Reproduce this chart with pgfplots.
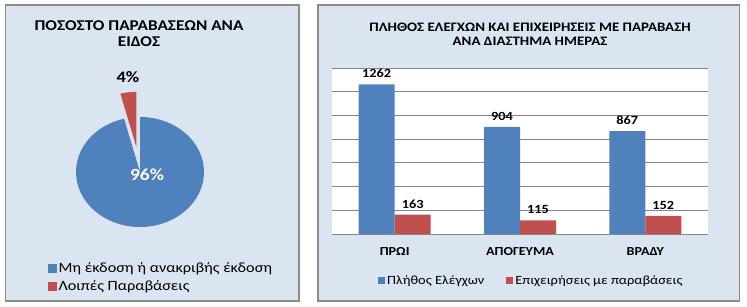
\documentclass[border=0pt]{standalone}
\usepackage{pgfplots}
\pgfplotsset{compat=1.18}
\usepackage{fontspec}
\setmainfont{Carlito}[FakeStretch=1.15]
\definecolor{exblue}{HTML}{4F81BD}
\definecolor{exred}{HTML}{C0504D}
\definecolor{panel}{HTML}{DBE5F1}
\definecolor{frame}{HTML}{8C8C8C}
\definecolor{gridc}{HTML}{868686}
\newcommand{\pieA}{96}
\newcommand{\pieB}{4}
\begin{document}
\begin{tikzpicture}
\useasboundingbox (0bp,0bp) rectangle (747bp,307bp);
\filldraw[fill=panel,draw=frame,line width=1.2bp] (5.5bp,6bp) rectangle (299bp,302bp);
\filldraw[fill=panel,draw=frame,line width=1.2bp] (318bp,6bp) rectangle (739.5bp,302bp);
\node[font=\bfseries\fontsize{15}{16}\selectfont, align=center] at (139bp,273.5bp) {ΠΟΣΟΣΤΟ ΠΑΡΑΒΑΣΕΩΝ ΑΝΑ\\ΕΙΔΟΣ};
\node[font=\bfseries\fontsize{13}{14.5}\selectfont, align=center] at (530bp,273bp) {ΠΛΗΘΟΣ ΕΛΕΓΧΩΝ ΚΑΙ ΕΠΙΧΕΙΡΗΣΕΙΣ ΜΕ ΠΑΡΑΒΑΣΗ\\ΑΝΑ ΔΙΑΣΤΗΜΑ ΗΜΕΡΑΣ};

% ---------- pie ----------
\begin{axis}[at={(140bp,135bp)}, anchor=center, x=64bp, y=55bp,
  xmin=-1.5, xmax=1.5, ymin=-1.5, ymax=1.5, hide axis, clip=false,
  legend image code/.code={\fill[#1] (0bp,-4bp) rectangle (8bp,4bp);},
  legend style={at={(0.005,-0.137)}, anchor=west, draw=none, fill=none,
    font=\fontsize{14.2}{15}\selectfont, legend cell align=left,
    row sep=3bp}]
\pgfmathsetmacro{\angB}{360/(\pieA+\pieB)*\pieB}
\pgfmathsetmacro{\endA}{90-360/(\pieA+\pieB)*\pieA}
\pgfmathsetmacro{\midB}{90+\angB/2}
\pgfmathsetmacro{\stB}{90+\angB}
\pgfmathsetmacro{\exX}{0.46*cos(\midB)}
\pgfmathsetmacro{\exY}{0.46*sin(\midB)}
\pgfmathsetmacro{\sX}{\exX+cos(\stB)}
\pgfmathsetmacro{\sY}{\exY+sin(\stB)}
\fill[exblue] (axis cs:0,0) -- (axis cs:0,1) arc[start angle=90, end angle=\endA, x radius=64bp, y radius=55bp] -- cycle;
\fill[exred] (axis cs:\exX,\exY) -- (axis cs:\sX,\sY) arc[start angle=\stB, end angle=90, x radius=64bp, y radius=55bp] -- cycle;
\node[font=\bfseries\fontsize{17}{19}\selectfont, text=white] at (axis cs:0.11,-0.05) {96\%};
\node[font=\bfseries\fontsize{16}{18}\selectfont] at (axis cs:-0.19,1.73) {4\%};
\addlegendimage{exblue}
\addlegendentry{Μη έκδοση ή ανακριβής έκδοση}
\addlegendimage{exred}
\addlegendentry{Λοιπές Παραβάσεις}
\end{axis}

% ---------- bars ----------
\begin{axis}[at={(332bp,73bp)}, anchor=south west, width=376bp, height=166bp, scale only axis,
  ybar, bar width=36bp, xmin=-0.5, xmax=2.5, ymin=0, ymax=1400,
  ytick={0,200,...,1400}, yticklabels={}, ymajorgrids, grid style={gridc, line width=0.8bp},
  axis line style={draw=none}, major tick length=0pt,
  xtick={0,1,2}, xticklabels={ΠΡΩΙ,ΑΠΟΓΕΥΜΑ,ΒΡΑΔΥ},
  xticklabel style={font=\bfseries\fontsize{12.3}{14}\selectfont, yshift=-10bp},
  axis background/.style={fill=white},
  nodes near coords,
  nodes near coords style={font=\bfseries\fontsize{12.5}{14}\selectfont, yshift=3bp, text=black},
  /pgf/number format/assume math mode=true, /pgf/number format/1000 sep={},
  legend image code/.code={\fill[#1] (0bp,-3.5bp) rectangle (7bp,3.5bp);},
  legend style={at={(0.53,-0.283)}, anchor=center, draw=none, fill=none,
    legend columns=2, font=\fontsize{12.6}{14}\selectfont,
    /tikz/every even column/.append style={column sep=20bp}}]
\addplot[fill=exblue, draw=none, bar shift=-18bp] coordinates {(0,1262) (1,904) (2,867)};
\addplot[fill=exred, draw=none, bar shift=18bp] coordinates {(0,163) (1,115) (2,152)};
\legend{Πλήθος Ελέγχων, Επιχειρήσεις με παραβάσεις}
\end{axis}
\end{tikzpicture}
\end{document}
